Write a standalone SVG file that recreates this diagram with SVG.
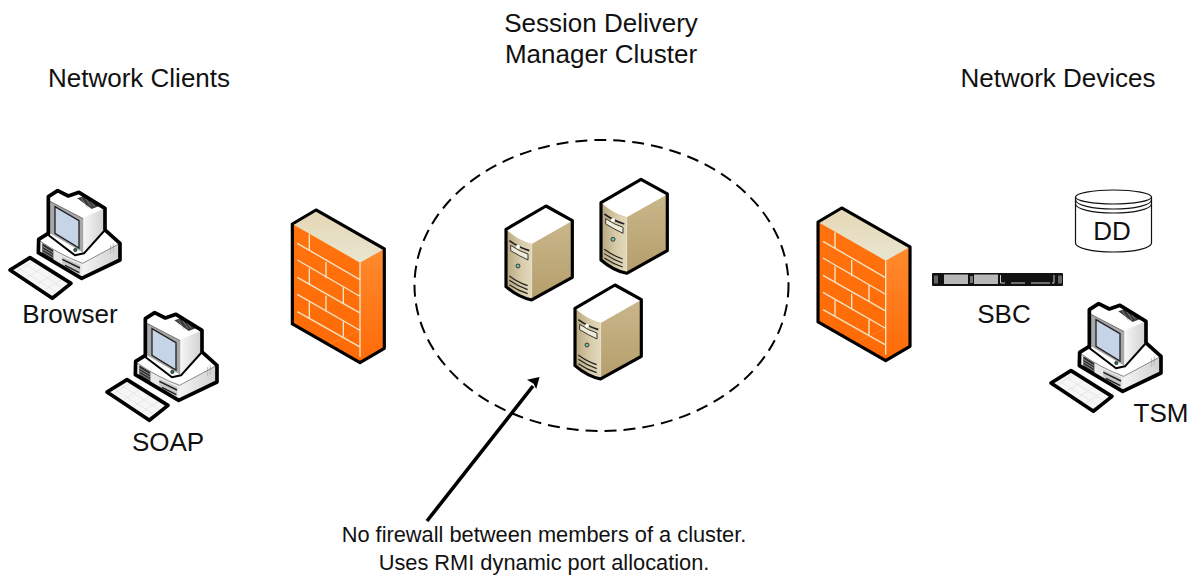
<svg xmlns="http://www.w3.org/2000/svg" width="1192" height="575" viewBox="0 0 1192 575">
<style>
text{font-family:"Liberation Sans",Arial,sans-serif;fill:#111;font-size:26px}
.sm{font-size:21.8px}
.m{text-anchor:middle}
.o{stroke:#000;stroke-width:9.500;stroke-linejoin:round;fill:none}
.p{stroke:#000;stroke-width:11;stroke-linejoin:round;fill:none}
.b{stroke:#f0e6c8;stroke-width:4;fill:none}
.k{stroke:#222;fill:none}
</style>
<defs>
<linearGradient id="side" x1="0" y1="0" x2="0" y2="1"><stop offset="0" stop-color="#ff8a2e"/><stop offset="1" stop-color="#ff6a08"/></linearGradient>
<linearGradient id="front" x1="0" y1="0" x2="0" y2="1"><stop offset="0" stop-color="#ff7410"/><stop offset="1" stop-color="#ff6a05"/></linearGradient>
<linearGradient id="top" x1="0" y1="0" x2="0" y2="1"><stop offset="0" stop-color="#e6d6b4"/><stop offset="1" stop-color="#e8e6d0"/></linearGradient>
<linearGradient id="tan" x1="0" y1="0" x2="0" y2="1"><stop offset="0" stop-color="#cdbb90"/><stop offset="1" stop-color="#b59e6c"/></linearGradient>
<linearGradient id="face" x1="0" y1="0" x2="1" y2="0"><stop offset="0" stop-color="#b8a880"/><stop offset=".6" stop-color="#d8ccaa"/><stop offset="1" stop-color="#e2d8bc"/></linearGradient>
<linearGradient id="grey" x1="0" y1="0" x2="1" y2="0"><stop offset="0" stop-color="#f4f4f4"/><stop offset="1" stop-color="#d0d0d0"/></linearGradient>
<g id="pc">
<path d="M116 178L140 162L315 150L360 190V240L245 295L115 218Z" fill="#fff"/>
<path d="M248 250L360 190V240L245 295Z" fill="url(#grey)"/>
<path d="M116 180Q180 225 248 250L245 295L115 218Z" fill="#e8e8e8"/>
<path d="M127 190L160 210V240L127 220Z" fill="#2c2c2c"/>
<path d="M128 199L159 218M128 207L159 226M128 215L159 234" stroke="#bbb" stroke-width="2"/>
<path d="M187 230L240 255V285L187 255Z" fill="#c8c8c8"/>
<path d="M187 238L240 264M195 256L238 278" stroke="#222" stroke-width="4.500" fill="none"/>
<path d="M332 195V222M340 190V218" stroke="#bbb" stroke-width="3"/>
<path d="M116 180Q180 225 248 250L360 190" fill="none" stroke="#555" stroke-width="2"/>
<path class="p" d="M116 178L145 160L315 150L360 190V240L245 295L115 218Z"/>
<path d="M145 50L173 32L205 48L237 37L315 85V150L250 220L225 224L145 165Z" fill="#fff"/>
<path d="M253 112L315 85V150L253 215Z" fill="url(#grey)"/>
<path d="M150 64L250 116V218L150 160Z" fill="#a8a8a8"/>
<path d="M150 64L250 116" stroke="#444" stroke-width="2" fill="none"/>
<path d="M165 80L237 122V204L165 160Z" fill="#c6d4e8" stroke="#222" stroke-width="4"/>
<path d="M232 55L255 47L300 77L275 87Z" fill="#3a3a3a"/>
<path d="M243 52L262 82M254 50L273 80M265 56L283 79" stroke="#999" stroke-width="2"/>
<circle cx="226" cy="210" r="5" fill="#2c7a4a" stroke="#111" stroke-width="2"/>
<path class="p" d="M145 165V50L173 32L205 48L237 37L315 85V150"/>
<path d="M315 150L252 220L225 226L145 165" fill="none" stroke="#000" stroke-width="6" stroke-linejoin="round"/>
<path d="M30 270L90 233L213 310L157 355Z" fill="#f6f6f6"/>
<path d="M30 277L155 347L213 310V315L157 355L30 272Z" fill="#9a9a9a"/>
<path d="M52 262L172 338M72 250L192 326M100 244L50 275M130 262L80 293M160 282L110 313M185 298L135 329" stroke="#e0e0e0" stroke-width="2"/>
<path class="p" d="M30 270L90 233L213 310L157 355Z"/>
</g>
<g id="fw">
<path d="M37 72L108 30L313 147V445L240 488L37 372Z" fill="url(#front)"/>
<path d="M240 188L313 147V445L240 488Z" fill="url(#side)"/>
<path d="M37 72L108 30L313 147L240 188Z" fill="url(#top)"/>
<path class="b" d="M52 130L238 238M52 180L238 288M52 232L238 338M52 283L238 390M52 335L238 440M88 103V150M138 186V235M88 205V255M190 262V312M138 287V335M88 307V357M190 365V410M240 188V470"/>
<path d="M150 432L238 392" stroke="#f0c090" stroke-width="1.500" stroke-dasharray="4 3" fill="none"/>
<path class="o" d="M37 72L108 30L313 147V445L240 488L37 372Z"/>
</g>
<g id="srv">
<path d="M50 180L168 110L245 154V320L125 388L85 376L50 350Z" fill="url(#tan)"/>
<path d="M50 180Q85 212 125 222L245 154L168 110Z" fill="#fff"/>
<path d="M50 180Q85 212 125 222V388Q85 378 50 350Z" fill="url(#face)"/>
<path d="M125 222V388" stroke="#f4efe2" stroke-width="2"/>
<path d="M58 212Q85 232 118 242" stroke="#222" stroke-width="5" fill="none"/>
<path d="M62 226Q88 244 114 252V270Q88 258 62 242Z" fill="#f0ead8" stroke="#333" stroke-width="3"/>
<circle cx="84" cy="230" r="6" fill="#fff"/>
<circle cx="84" cy="288" r="6" fill="#7cc0a8" stroke="#222" stroke-width="2.500"/>
<path class="k" stroke-width="3.500" d="M58 318Q85 338 113 347M58 331Q85 350 113 359M58 344Q85 362 113 371"/>
<path class="o" d="M48 178L168 108L247 152V322L125 390Q85 382 48 350Z"/>
</g>
</defs>

<g id="connectors">
<ellipse cx="601.500" cy="285.500" rx="187" ry="145.500" fill="none" stroke="#000" stroke-width="2" stroke-dasharray="12 7"/>
<path d="M427 521L533 386" fill="none" stroke="#000" stroke-width="3.600"/>
<path d="M538.500 378L529 380L534 383L536 387Z" fill="#000" stroke="#000" stroke-width="1.500"/>
</g>

<g id="browser"><use href="#pc" transform="translate(0 180) scale(.3333)"/><text x="70" y="323" class="m">Browser</text></g>
<g id="soap"><use href="#pc" transform="translate(97 302) scale(.3333)"/><text x="168" y="451" class="m">SOAP</text></g>
<g id="tsm"><use href="#pc" transform="translate(1041 293) scale(.3333)"/><text x="1161" y="422" class="m">TSM</text></g>
<g id="firewall-left"><use href="#fw" transform="translate(280 200) scale(.3333)"/></g>
<g id="firewall-right"><use href="#fw" transform="translate(805.700 198) scale(.3333)"/></g>
<g id="server-1"><use href="#srv" transform="translate(490 170) scale(.3333)"/></g>
<g id="server-2"><use href="#srv" transform="translate(585 143.300) scale(.3333)"/></g>
<g id="server-3"><use href="#srv" transform="translate(559 249) scale(.3333)"/></g>

<g id="dd">
<path d="M1075.500 197V243C1075.500 248 1092 252 1113.500 252S1151.500 248 1151.500 243V197" fill="#fff" stroke="#111" stroke-width="1.200"/>
<ellipse cx="1113.500" cy="197" rx="38" ry="7" fill="#fff" stroke="#111" stroke-width="1.200"/>
<path d="M1075.500 200C1076 205 1092 209 1113.500 209S1151 205 1151.500 200M1075.500 204C1076 209 1092 213 1113.500 213S1151 209 1151.500 204" fill="none" stroke="#111" stroke-width="1.200"/>
<text x="1112" y="240" class="m">DD</text>
</g>

<g id="sbc">
<rect x="932" y="273" width="131" height="13" rx="1" fill="#111"/>
<rect x="944" y="274.500" width="24" height="9.500" fill="#b8b8b8"/>
<rect x="974" y="274.500" width="24" height="9.500" fill="#b8b8b8"/>
<rect x="970" y="276" width="3" height="7" fill="#777"/>
<path d="M1000.500 275V283H1005M1052 283H1054V275M1011 283H1025M1031 283H1050" stroke="#ccc" stroke-width="1" fill="none"/>
<rect x="934" y="275.500" width="4" height="8" fill="#666"/>
<rect x="1058" y="275.500" width="4" height="8" fill="#666"/>
<text x="1004" y="323" class="m">SBC</text>
</g>

<g id="labels">
<text x="139" y="87" class="m">Network Clients</text>
<text x="601" y="32" class="m">Session Delivery</text>
<text x="601" y="63" class="m">Manager Cluster</text>
<text x="1058" y="87" class="m">Network Devices</text>
<text x="544" y="542" class="m sm">No firewall between members of a cluster.</text>
<text x="544" y="570" class="m sm">Uses RMI dynamic port allocation.</text>
</g>
</svg>
